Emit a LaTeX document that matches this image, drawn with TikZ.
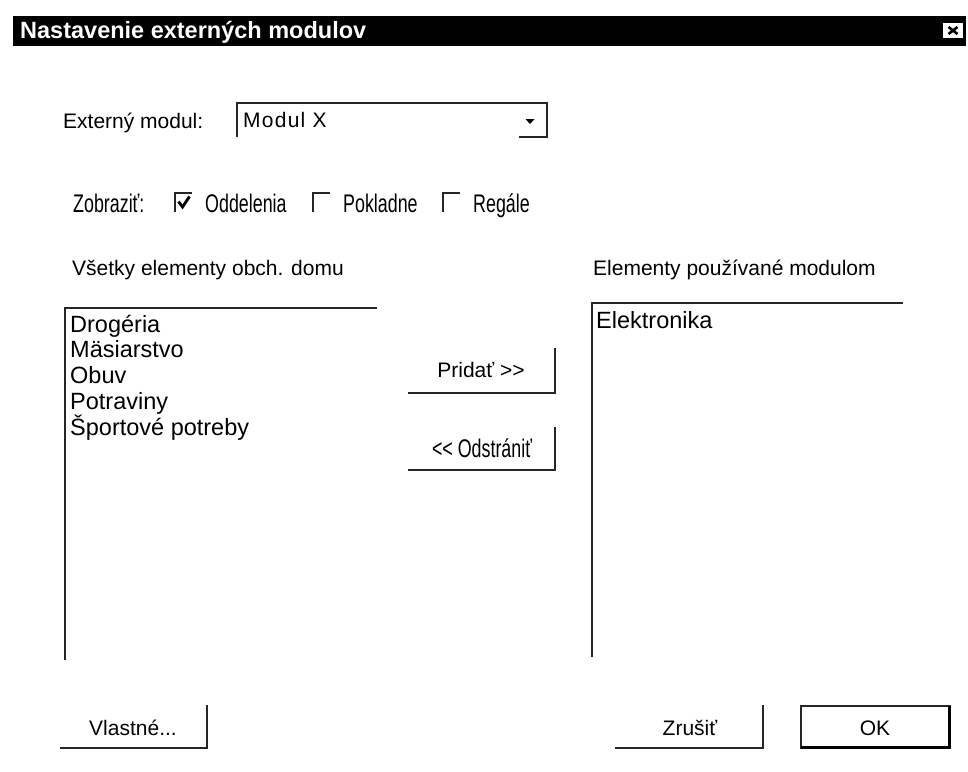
\documentclass[tikz,border=0pt]{standalone}
\usepackage{fontspec}
\setmainfont{Liberation Sans}
\usepackage{graphicx}
% dialog fonts
\newcommand{\uifont}{\fontsize{21}{24}\selectfont}
\newcommand{\uilist}{\fontsize{23.5}{26}\selectfont}
\newcommand{\uititle}{\fontsize{23.5}{26}\selectfont\bfseries}
\newcommand{\uicond}[1]{\scalebox{0.70}[1]{\fontsize{25.5}{28}\selectfont #1}}
\begin{document}
\begin{tikzpicture}[x=1pt,y=-1pt,
  edge/.style={draw=black!85,line width=1.6pt},
  lbl/.style={inner sep=0pt,anchor=base west,font=\uifont},
  item/.style={inner sep=0pt,anchor=base west,font=\uilist},
  btn/.style={inner sep=0pt,anchor=base,font=\uifont}]
\useasboundingbox (0,0) rectangle (968,771);
\fill[white] (0,0) rectangle (968,771);

% title bar
\fill[black] (13,16) rectangle (966,46);
\node[inner sep=0pt,anchor=base west,text=white,font=\uititle] (title) at (20,38) {Nastavenie externých modulov};
\fill[white] (943,23) rectangle (963,38);
\draw[line width=2.6pt,black] (948.5,27) -- (957.5,34) (948.5,34) -- (957.5,27);

% module selector
\node[lbl] (modlabel) at (63,128) {Externý modul:};
\draw[edge] (237,137) -- (237,103) -- (547,103) -- (547,137) -- (519,137);
\node[item,font=\uifont] (modval) at (243,127) {\addfontfeatures{LetterSpace=6}Modul X};
\fill[black] (525.5,119) -- (534.5,119) -- (530,124) -- cycle;

% display options
\node[lbl] (showlabel) at (73,212) {\uicond{Zobraziť:}};
\draw[edge] (175,212) -- (175,193) -- (192,193);
\draw[line width=2.8pt,black] (178.5,201.5) -- (182.5,207) -- (189.5,196.5);
\node[lbl] (opt1) at (205,212) {\uicond{Oddelenia}};
\draw[edge] (313,212) -- (313,193) -- (330,193);
\node[lbl] (opt2) at (343,212) {\uicond{Pokladne}};
\draw[edge] (443,212) -- (443,193) -- (460,193);
\node[lbl] (opt3) at (473,212) {\uicond{Regále}};

% list of all elements
\node[lbl] (alllabel) at (72,275) {Všetky elementy obch. domu};
\draw[edge] (65,660) -- (65,308) -- (377,308);
\node[item] (i1) at (70,332) {Drogéria};
\node[item] (i2) at (70,357.8) {Mäsiarstvo};
\node[item] (i3) at (70,383.6) {Obuv};
\node[item] (i4) at (70,409.4) {Potraviny};
\node[item] (i5) at (70,435.2) {Športové potreby};

% add / remove buttons
\draw[edge] (408,393) -- (555,393) -- (555,348);
\node[btn] (addbtn) at (481,377) {Pridať >{}>};
\draw[edge] (408,470) -- (555,470) -- (555,427);
\node[btn] (rembtn) at (482,457) {\uicond{<{}< Odstrániť}};

% list of used elements
\node[lbl] (usedlabel) at (593,275) {Elementy používané modulom};
\draw[edge] (592,657) -- (592,303) -- (903,303);
\node[item] (u1) at (596,328) {Elektronika};

% bottom buttons
\draw[edge] (60,748) -- (207,748) -- (207,705);
\node[btn] (ownbtn) at (133,735) {Vlastné...};
\draw[edge] (615,748) -- (763,748) -- (763,705);
\node[btn] (cancelbtn) at (690,735) {Zrušiť};
\draw[edge] (801,706) rectangle (950,748);
\draw[line width=3pt,black] (801,747.5) -- (949.5,747.5) -- (949.5,706);
\node[btn] (okbtn) at (875,735) {OK};
\end{tikzpicture}
\end{document}
